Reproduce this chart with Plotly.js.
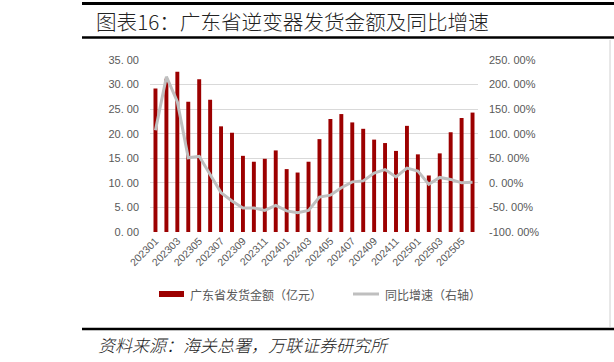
<!DOCTYPE html>
<html>
<head>
<meta charset="utf-8">
<script src="https://cdn.plot.ly/plotly-3.0.1.min.js"></script>
<style>
html,body{margin:0;padding:0;background:#fff;}
#chart{width:614px;height:362px;}
</style>
</head>
<body>
<div id="chart"></div>
<script>
// ---- data ----
var months = ['202301','202302','202303','202304','202305','202306','202307','202308','202309','202310','202311','202312',
              '202401','202402','202403','202404','202405','202406','202407','202408','202409','202410','202411','202412',
              '202501','202502','202503','202504','202505','202506'];
var amount = [29.2, 31.2, 32.6, 26.5, 31.1, 26.9, 21.5, 20.2, 15.5, 14.3, 14.9, 16.6,
              12.8, 12.1, 14.3, 18.9, 23.0, 24.0, 22.3, 21.0, 18.8, 18.1, 16.5, 21.6,
              15.8, 11.5, 16.0, 20.3, 23.2, 24.3];
var growth = [107, 216, 165, 51, 54, 16, -20, -37, -51, -51, -56, -46,
              -57, -61, -56, -29, -25, -10, 2, 4, 20, 27, 12, 30,
              24, -3, 11, 7, 0, 1];
var xTickLabels = ['202301','202303','202305','202307','202309','202311','202401','202403','202405','202407','202409','202411','202501','202503','202505'];
var leftTickVals = [0,5,10,15,20,25,30,35];
var leftTickText = ['0. 00','5. 00','10. 00','15. 00','20. 00','25. 00','30. 00','35. 00'];
var rightTickVals = [-100,-50,0,50,100,150,200,250];
var rightTickText = ['-100. 00%','-50. 00%','0. 00%','50. 00%','100. 00%','150. 00%','200. 00%','250. 00%'];
var titleText = '图表16：广东省逆变器发货金额及同比增速';
var seriesNames = ['广东省发货金额（亿元）','同比增速（右轴）'];
var sourceText = '资料来源：海关总署，万联证券研究所';

// ---- geometry helpers (pixel -> paper) ----
var L = 150, R = 478, T = 60, B = 232;
function px(x){ return (x - L) / (R - L); }
function py(y){ return (B - y) / (B - T); }

var barColor = '#9C0000';
var lineColor = '#BFBFBF';
var tickFont = {family: '"Liberation Sans", Arial, sans-serif', size: 11, color: '#595959'};
var cjk = '"Noto Sans CJK SC", "Noto Sans", sans-serif';

var traces = [
  {type:'bar', x: months, y: amount, name: seriesNames[0], marker:{color: barColor},
   yaxis:'y', showlegend:false, hoverinfo:'x+y'},
  {type:'scatter', mode:'lines', x: months, y: growth, name: seriesNames[1],
   line:{color: lineColor, width: 3}, yaxis:'y2', showlegend:false}
];

var shapes = [
  {type:'line', xref:'paper', yref:'paper', x0:px(82), x1:px(614), y0:py(3.5), y1:py(3.5), line:{color:'#000', width:3}},
  {type:'line', xref:'paper', yref:'paper', x0:px(82), x1:px(614), y0:py(37.5), y1:py(37.5), line:{color:'#000', width:2.5}},
  {type:'line', xref:'paper', yref:'paper', x0:px(82), x1:px(614), y0:py(329), y1:py(329), line:{color:'#000', width:2.5}},
  {type:'line', xref:'paper', yref:'paper', x0:px(610), x1:px(610), y0:py(40), y1:py(327), line:{color:'#D0D0D0', width:1}},
  {type:'rect', xref:'paper', yref:'paper', x0:px(159), x1:px(184), y0:py(291), y1:py(297), fillcolor: barColor, line:{width:0}},
  {type:'line', xref:'paper', yref:'paper', x0:px(353), x1:px(379), y0:py(294), y1:py(294), line:{color: lineColor, width:3}}
];

var annotations = [
  {xref:'paper', yref:'paper', x:px(94), y:py(21), xanchor:'left', yanchor:'middle', showarrow:false,
   text: titleText, font:{family: cjk, size:20.6, color:'#222', weight: 300}},
  {xref:'paper', yref:'paper', x:px(188), y:py(294), xanchor:'left', yanchor:'middle', showarrow:false,
   text: seriesNames[0], font:{family: cjk, size:12, color:'#595959'}},
  {xref:'paper', yref:'paper', x:px(383), y:py(294), xanchor:'left', yanchor:'middle', showarrow:false,
   text: seriesNames[1], font:{family: cjk, size:12, color:'#595959'}},
  {xref:'paper', yref:'paper', x:px(96), y:py(344), xanchor:'left', yanchor:'middle', showarrow:false,
   text: '<i>' + sourceText + '</i>', font:{family: cjk, size:17, color:'#222', weight: 300}}
];

var layout = {
  width: 614, height: 362,
  margin: {l: L, r: 614 - R, t: T, b: 362 - B, pad: 0},
  paper_bgcolor: '#fff', plot_bgcolor: '#fff',
  bargap: 0.64,
  showlegend: false,
  xaxis: {type:'category', categoryorder:'array', categoryarray: months,
          tickmode:'array', tickvals: xTickLabels, ticktext: xTickLabels,
          tickangle: -45, tickfont: {family: tickFont.family, size: 10.5, color: '#595959'},
          showgrid:false, zeroline:false, showline:false, ticks:'', ticklen:0, fixedrange:true},
  yaxis: {range:[0,35], tickmode:'array', tickvals: leftTickVals, ticktext: leftTickText,
          tickfont: tickFont, showgrid:true, gridcolor:'#D9D9D9', gridwidth:1,
          zeroline:false, showline:false, ticks:'', ticklabelstandoff: 10},
  yaxis2: {range:[-100,250], overlaying:'y', side:'right', tickmode:'array',
           tickvals: rightTickVals, ticktext: rightTickText, tickfont: tickFont,
           showgrid:false, zeroline:false, showline:false, ticks:'', ticklabelstandoff: 10},
  shapes: shapes,
  annotations: annotations
};

Plotly.newPlot('chart', traces, layout, {displayModeBar:false, staticPlot:true});
</script>
</body>
</html>
